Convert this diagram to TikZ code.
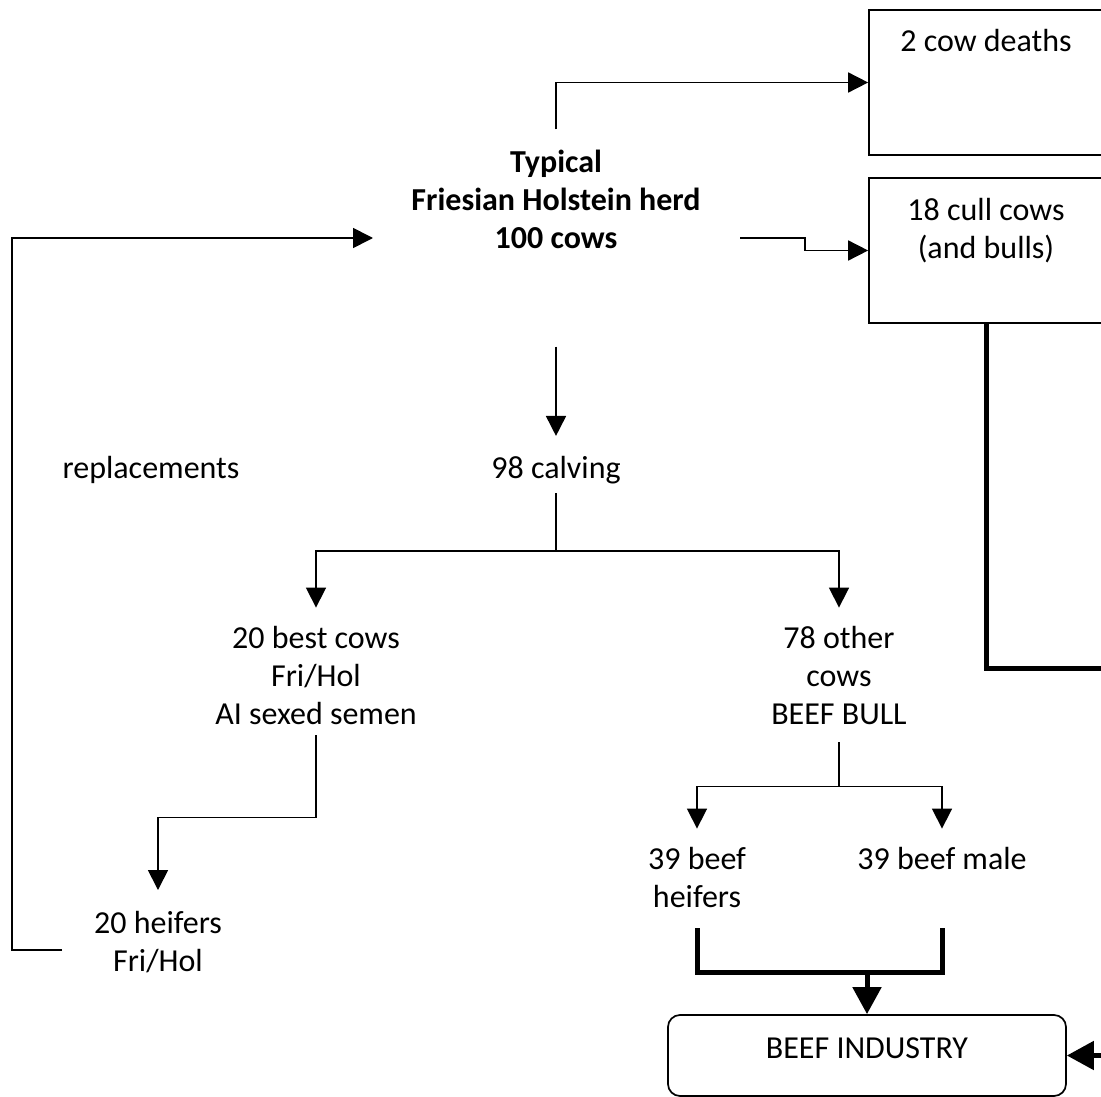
\documentclass[tikz,border=0pt]{standalone}
\usepackage{fontspec}
\setmainfont{Carlito}
\usetikzlibrary{arrows.meta}

\begin{document}
\begin{tikzpicture}[x=1pt, y=-1pt,
    every node/.style={font=\fontsize{32}{38}\selectfont, inner sep=0pt, align=center},
    box/.style={draw, line width=1.7pt, minimum width=234pt, minimum height=145pt},
    arr/.style={-{Triangle[length=20pt, width=20pt]}, line width=1.7pt},
    fat/.style={line width=5pt},
    fatarr/.style={fat, -{Triangle[length=27pt, width=28pt]}}]
  \useasboundingbox (0,0) rectangle (1101,1097);
  \clip (0,0) rectangle (1101,1097);

  % boxes on the right
  \node[box, label={[anchor=base, yshift=-42pt]north:2 cow deaths}] (deaths) at (986,82.5) {};
  \node[box, label={[anchor=north, yshift=-21pt]north:18 cull cows\\(and bulls)}] (cull) at (986,250.5) {};

  % herd and calves
  \node[font=\fontsize{32}{38}\selectfont\bfseries] (herd) at (556,199) {Typical\\Friesian Holstein herd\\100 cows};
  \node (calving) at (556,470) {98 calving};
  \node (repl) at (151,470) {replacements};
  \node (best) at (316,676) {20 best cows\\Fri/Hol\\AI sexed semen};
  \node (other) at (839,676) {78 other\\cows\\BEEF BULL};
  \node (bheifers) at (697,878) {39 beef\\heifers};
  \node (bmale) at (942,859) {39 beef male};
  \node (fheifers) at (158,942) {20 heifers\\Fri/Hol};
  \node[draw, line width=1.7pt, rounded corners=12pt, minimum width=398pt, minimum height=81pt,
        text height=20pt, text depth=15pt] (beef) at (867,1055.5) {BEEF INDUSTRY};

  \coordinate (herdin) at (373,238);
  \coordinate (herdout) at (740,238);
  \coordinate (loopstart) at (62,950);
  \coordinate (join) at (867,972);

  % thin arrows
  \draw[arr, shorten <=20pt] (herd.north) |- (deaths.west);
  \draw[arr] (herdout) -- ++(65,0) |- (cull.west);
  \draw[arr, shorten <=98pt, shorten >=20pt] (herd.south) -- (calving.north);
  \draw[arr, shorten <=9pt, shorten >=19pt] (calving.south) -- ++(0,67) -| (best.north);
  \draw[arr, shorten <=9pt, shorten >=19pt] (calving.south) -- ++(0,67) -| (other.north);
  \draw[arr, shorten <=10pt, shorten >=21pt] (best.south) -- ++(0,92) -| (fheifers.north);
  \draw[arr] (loopstart) -- ++(-50,0) |- (herdin);
  \draw[arr, shorten <=17pt, shorten >=19pt] (other.south) -- ++(0,61) -| (bheifers.north);
  \draw[arr, shorten <=17pt, shorten >=19pt] (other.south) -- ++(0,61) -| (bmale.north);

  % thick lines to the beef industry
  \draw[fat, shorten <=20pt, shorten >=58pt] (bheifers.south) -- ++(0,64) -| (bmale.south);
  \draw[fatarr] (join) -- (beef.north);
  \draw[fatarr] (cull.south) -- ++(0,345) -- ++(134,0) |- (beef.east);
\end{tikzpicture}
\end{document}
